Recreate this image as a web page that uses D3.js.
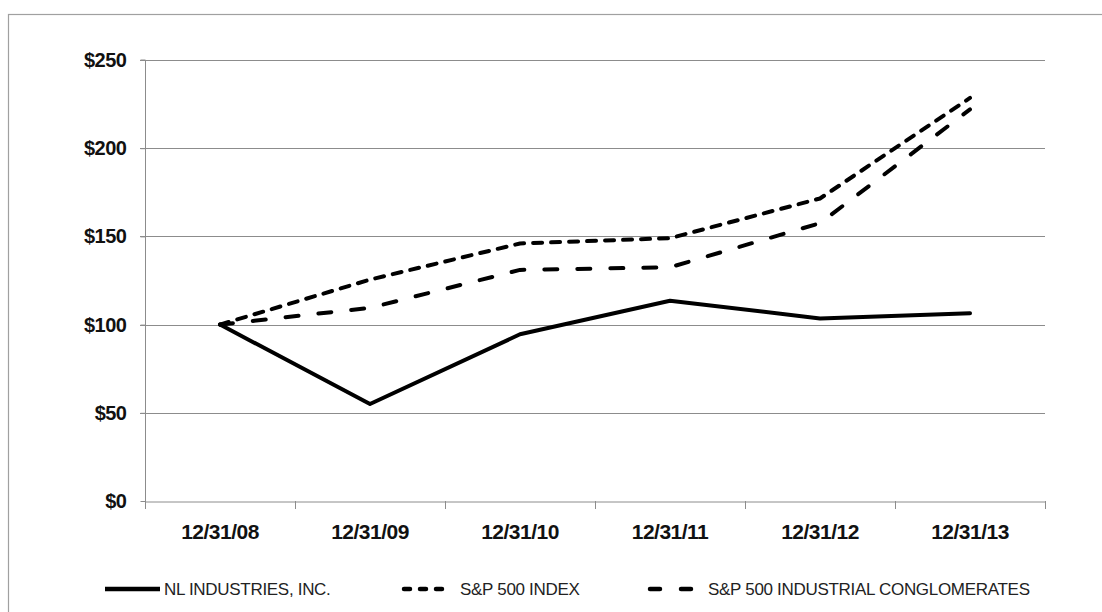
<!DOCTYPE html>
<html><head><meta charset="utf-8">
<script src="https://cdn.jsdelivr.net/npm/d3@7"></script>
<style>body{margin:0;background:#fff}svg{display:block}</style>
</head><body>
<svg id="c" width="1102" height="612"></svg>
<script>
const categories = ["12/31/08","12/31/09","12/31/10","12/31/11","12/31/12","12/31/13"];
const nlIndustries = [100, 55, 94.5, 113.5, 103.5, 106.5];
const sp500 = [100, 125.5, 146, 149, 171.5, 228.5];
const spIndustrialConglomerates = [100, 109.5, 131, 132.5, 157.5, 222];
const yTicks = [0, 50, 100, 150, 200, 250];
const seriesNames = ["NL INDUSTRIES, INC.", "S&P 500 INDEX", "S&P 500 INDUSTRIAL CONGLOMERATES"];

(function(){
const series = [
  {name: seriesNames[0], values: nlIndustries, dash: null, cap: "round"},
  {name: seriesNames[1], values: sp500, dash: "9,9", cap: "round"},
  {name: seriesNames[2], values: spIndustrialConglomerates, dash: "13,20", cap: "round"}
];

const svg = d3.select("#c");
svg.append("rect").attr("x",8.5).attr("y",14.5).attr("width",1100).attr("height",620)
  .attr("fill","#fff").attr("stroke","#a0a0a0").attr("stroke-width",1.2);

const mLeft = 145, mRight = 1045, mTop = 60, mBottom = 501;
const x = d3.scaleBand().domain(categories).range([mLeft, mRight]);
const y = d3.scaleLinear().domain([0, 250]).range([mBottom, mTop]);

// grid lines
svg.append("g").selectAll("line").data(yTicks.filter(d=>d>0)).join("line")
  .attr("x1", mLeft-5).attr("x2", mRight).attr("y1", d=>Math.round(y(d))+0.5).attr("y2", d=>Math.round(y(d))+0.5)
  .attr("stroke","#8c8c8c").attr("stroke-width",1);

// y axis
const yAxis = svg.append("g").attr("transform",`translate(${mLeft+0.5},0)`)
  .call(d3.axisLeft(y).tickValues(yTicks).tickSize(5).tickFormat(d=>"$"+d));
yAxis.select(".domain").attr("stroke","#8c8c8c").attr("d", `M-5,${y(250)}H0V${y(0)}`);
yAxis.selectAll(".tick line").attr("stroke","#8c8c8c");
yAxis.selectAll(".tick text").attr("x",-19).attr("font-family","Liberation Sans, Arial, sans-serif")
  .attr("font-weight","bold").attr("font-size",20).attr("fill","#111").attr("letter-spacing","-0.5");

// x axis
const xAxis = svg.append("g").attr("transform",`translate(0,${Math.round(y(0))+0.5})`)
  .call(d3.axisBottom(x).tickSize(0).tickPadding(23));
xAxis.select(".domain").attr("stroke","#8c8c8c");
xAxis.selectAll(".tick text").attr("font-family","Liberation Sans, Arial, sans-serif")
  .attr("font-weight","bold").attr("font-size",21).attr("fill","#111").attr("letter-spacing","-0.5");
// category boundary ticks
const bounds = categories.map(c=>x(c)).concat([x(categories[categories.length-1])+x.bandwidth()]);
svg.append("g").selectAll("line").data(bounds).join("line")
  .attr("x1",d=>Math.round(d)+0.5).attr("x2",d=>Math.round(d)+0.5)
  .attr("y1",Math.round(y(0))).attr("y2",Math.round(y(0))+8)
  .attr("stroke","#8c8c8c");

// lines
const line = d3.line().x((d,i)=>x(categories[i])+x.bandwidth()/2).y(d=>y(d));
series.forEach(s=>{
  svg.append("path").datum(s.values).attr("d", line)
    .attr("fill","none").attr("stroke","#000").attr("stroke-width",4)
    .attr("stroke-linejoin","round").attr("stroke-linecap", s.cap)
    .attr("stroke-dasharray", s.dash);
});

// legend
const legendY = 589;
const legendItems = [
  {x1:105, x2:160, tx:164},
  {x1:404, x2:446, tx:460},
  {x1:650, x2:698, tx:708}
];
const legendDash = [null, "6,10", "10,21"];
series.forEach((s,i)=>{
  const it = legendItems[i];
  svg.append("line").attr("x1",it.x1).attr("x2",it.x2).attr("y1",legendY).attr("y2",legendY)
    .attr("stroke","#000").attr("stroke-width",4.5).attr("stroke-linecap", i===0?"butt":"round")
    .attr("stroke-dasharray", legendDash[i]);
  svg.append("text").attr("x",it.tx).attr("y",legendY).attr("dy","0.35em")
    .attr("font-family","Liberation Sans, Arial, sans-serif").attr("font-size",17)
    .attr("fill","#222").attr("letter-spacing","-0.3").text(s.name);
});
})();
</script>
</body></html>
